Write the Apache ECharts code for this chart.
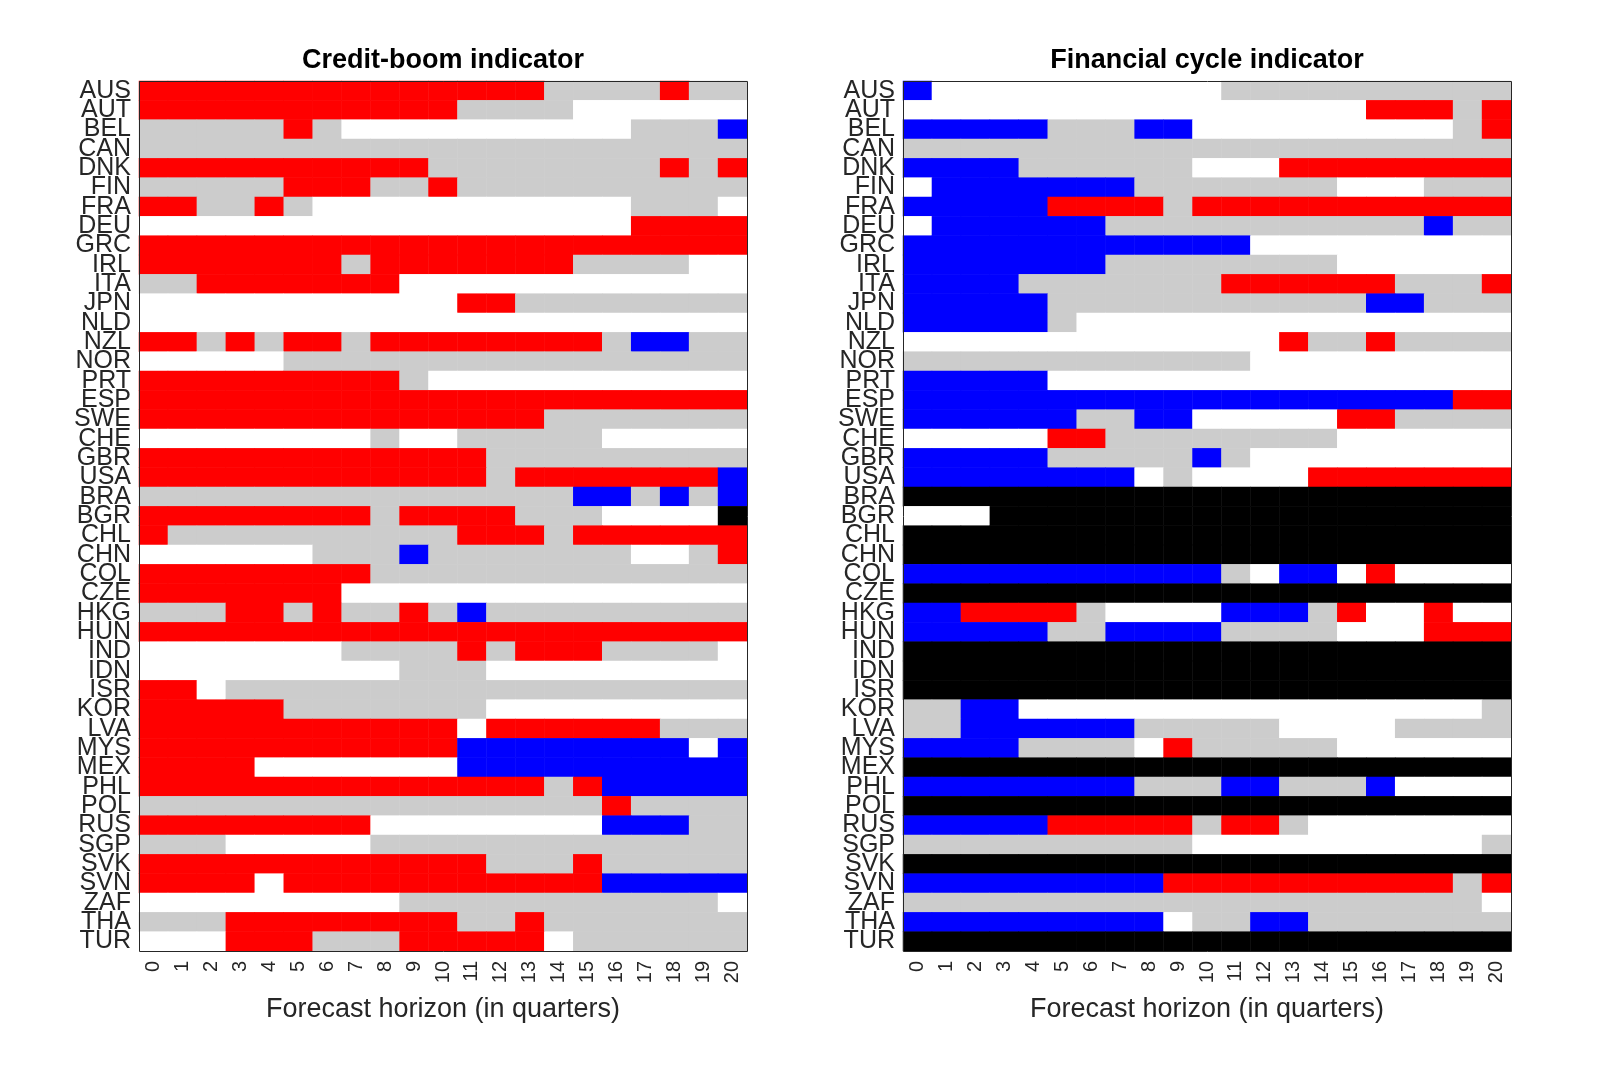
<!DOCTYPE html>
<html>
<head>
<meta charset="utf-8">
<script src="https://cdn.jsdelivr.net/npm/echarts@6/dist/echarts.min.js"></script>
<style>
  html, body { margin: 0; padding: 0; background: #ffffff; }
  #chart { width: 1600px; height: 1066px; }
</style>
</head>
<body>
<div id="chart"></div>
<script>
// Countries (rows, top to bottom) and forecast horizons (columns)
const countries = ['AUS', 'AUT', 'BEL', 'CAN', 'DNK', 'FIN', 'FRA', 'DEU', 'GRC', 'IRL', 'ITA', 'JPN',
    'NLD', 'NZL', 'NOR', 'PRT', 'ESP', 'SWE', 'CHE', 'GBR', 'USA', 'BRA', 'BGR', 'CHL', 'CHN', 'COL',
    'CZE', 'HKG', 'HUN', 'IND', 'IDN', 'ISR', 'KOR', 'LVA', 'MYS', 'MEX', 'PHL', 'POL', 'RUS', 'SGP',
    'SVK', 'SVN', 'ZAF', 'THA', 'TUR'];
const horizons = ['0', '1', '2', '3', '4', '5', '6', '7', '8', '9', '10', '11', '12', '13', '14', '15',
    '16', '17', '18', '19', '20'];

// Cell codes: W = white, G = grey, R = red, B = blue, K = black (no data)
const cellCodes = { W: 0, G: 1, R: 2, B: 3, K: 4 };

// Credit-boom indicator, one string per country, one letter per horizon
const creditBoom = [
    'RRRRRRRRRRRRRRGGGGRGG', // AUS
    'RRRRRRRRRRRGGGGWWWWWW', // AUT
    'GGGGGRGWWWWWWWWWWGGGB', // BEL
    'GGGGGGGGGGGGGGGGGGGGG', // CAN
    'RRRRRRRRRRGGGGGGGGRGR', // DNK
    'GGGGGRRRGGRGGGGGGGGGG', // FIN
    'RRGGRGWWWWWWWWWWWGGGW', // FRA
    'WWWWWWWWWWWWWWWWWRRRR', // DEU
    'RRRRRRRRRRRRRRRRRRRRR', // GRC
    'RRRRRRRGRRRRRRRGGGGWW', // IRL
    'GGRRRRRRRWWWWWWWWWWWW', // ITA
    'WWWWWWWWWWWRRGGGGGGGG', // JPN
    'WWWWWWWWWWWWWWWWWWWWW', // NLD
    'RRGRGRRGRRRRRRRRGBBGG', // NZL
    'WWWWWGGGGGGGGGGGGGGGG', // NOR
    'RRRRRRRRRGWWWWWWWWWWW', // PRT
    'RRRRRRRRRRRRRRRRRRRRR', // ESP
    'RRRRRRRRRRRRRRGGGGGGG', // SWE
    'WWWWWWWWGWWGGGGGWWWWW', // CHE
    'RRRRRRRRRRRRGGGGGGGGG', // GBR
    'RRRRRRRRRRRRGRRRRRRRB', // USA
    'GGGGGGGGGGGGGGGBBGBGB', // BRA
    'RRRRRRRRGRRRRGGGWWWWK', // BGR
    'RGGGGGGGGGGRRRGRRRRRR', // CHL
    'WWWWWWGGGBGGGGGGGWWGR', // CHN
    'RRRRRRRRGGGGGGGGGGGGG', // COL
    'RRRRRRRWWWWWWWWWWWWWW', // CZE
    'GGGRRGRGGRGBGGGGGGGGG', // HKG
    'RRRRRRRRRRRRRRRRRRRRR', // HUN
    'WWWWWWWGGGGRGRRRGGGGW', // IND
    'WWWWWWWWWGGGWWWWWWWWW', // IDN
    'RRWGGGGGGGGGGGGGGGGGG', // ISR
    'RRRRRGGGGGGGWWWWWWWWW', // KOR
    'RRRRRRRRRRRWRRRRRRGGG', // LVA
    'RRRRRRRRRRRBBBBBBBBWB', // MYS
    'RRRRWWWWWWWBBBBBBBBBB', // MEX
    'RRRRRRRRRRRRRRGRBBBBB', // PHL
    'GGGGGGGGGGGGGGGGRGGGG', // POL
    'RRRRRRRRWWWWWWWWBBBGG', // RUS
    'GGGWWWWWGGGGGGGGGGGGG', // SGP
    'RRRRRRRRRRRRGGGRGGGGG', // SVK
    'RRRRWRRRRRRRRRRRBBBBB', // SVN
    'WWWWWWWWWGGGGGGGGGGGW', // ZAF
    'GGGRRRRRRRRGGRGGGGGGG', // THA
    'WWWRRRGGGRRRRRWGGGGGG'  // TUR
];

// Financial cycle indicator
const finCycle = [
    'BWWWWWWWWWWGGGGGGGGGG', // AUS
    'WWWWWWWWWWWWWWWWRRRGR', // AUT
    'BBBBBGGGBBWWWWWWWWWGR', // BEL
    'GGGGGGGGGGGGGGGGGGGGG', // CAN
    'BBBBGGGGGGWWWRRRRRRRR', // DNK
    'WBBBBBBBGGGGGGGWWWGGG', // FIN
    'BBBBBRRRRGRRRRRRRRRRR', // FRA
    'WBBBBBBGGGGGGGGGGGBGG', // DEU
    'BBBBBBBBBBBBWWWWWWWWW', // GRC
    'BBBBBBBGGGGGGGGWWWWWW', // IRL
    'BBBBGGGGGGGRRRRRRGGGR', // ITA
    'BBBBBGGGGGGGGGGGBBGGG', // JPN
    'BBBBBGWWWWWWWWWWWWWWW', // NLD
    'WWWWWWWWWWWWWRGGRGGGG', // NZL
    'GGGGGGGGGGGGWWWWWWWWW', // NOR
    'BBBBBWWWWWWWWWWWWWWWW', // PRT
    'BBBBBBBBBBBBBBBBBBBRR', // ESP
    'BBBBBBGGBBWWWWWRRGGGG', // SWE
    'WWWWWRRGGGGGGGGWWWWWW', // CHE
    'BBBBBGGGGGBGWWWWWWWWW', // GBR
    'BBBBBBBBWGWWWWRRRRRRR', // USA
    'KKKKKKKKKKKKKKKKKKKKK', // BRA
    'WWWKKKKKKKKKKKKKKKKKK', // BGR
    'KKKKKKKKKKKKKKKKKKKKK', // CHL
    'KKKKKKKKKKKKKKKKKKKKK', // CHN
    'BBBBBBBBBBBGWBBWRWWWW', // COL
    'KKKKKKKKKKKKKKKKKKKKK', // CZE
    'BBRRRRGWWWWBBBGRWWRWW', // HKG
    'BBBBBGGBBBBGGGGWWWRRR', // HUN
    'KKKKKKKKKKKKKKKKKKKKK', // IND
    'KKKKKKKKKKKKKKKKKKKKK', // IDN
    'KKKKKKKKKKKKKKKKKKKKK', // ISR
    'GGBBWWWWWWWWWWWWWWWWG', // KOR
    'GGBBBBBBGGGGGWWWWGGGG', // LVA
    'BBBBGGGGWRGGGGGWWWWWW', // MYS
    'KKKKKKKKKKKKKKKKKKKKK', // MEX
    'BBBBBBBBGGGBBGGGBWWWW', // PHL
    'KKKKKKKKKKKKKKKKKKKKK', // POL
    'BBBBBRRRRRGRRGWWWWWWW', // RUS
    'GGGGGGGGGGWWWWWWWWWWG', // SGP
    'KKKKKKKKKKKKKKKKKKKKK', // SVK
    'BBBBBBBBBRRRRRRRRRRGR', // SVN
    'GGGGGGGGGGGGGGGGGGGGW', // ZAF
    'BBBBBBBBBWGGBBGGGGGGG', // THA
    'KKKKKKKKKKKKKKKKKKKKK'  // TUR
];

// turn the row strings into [x, y, code] triples for the heatmap
function toCells(rows) {
    const cells = [];
    rows.forEach(function (row, y) {
        for (let x = 0; x < row.length; x++) {
            cells.push([x, y, cellCodes[row[x]]]);
        }
    });
    return cells;
}

const font = 'Liberation Sans, Arial, Helvetica, sans-serif';
const textColor = '#262626';

// plot boxes in pixels
const boxes = [
    { left: 139, top: 81, width: 608, height: 870 },
    { left: 903, top: 81, width: 608, height: 870 }
];
const titles = ['Credit-boom indicator', 'Financial cycle indicator'];

function xAxisFor(i) {
    return {
        type: 'category',
        gridIndex: i,
        data: horizons,
        axisLine: { show: false },
        axisTick: { show: false },
        splitLine: { show: false },
        axisLabel: {
            rotate: 90,
            interval: 0,
            margin: 10,
            fontSize: 20,
            fontFamily: font,
            color: textColor
        },
        name: 'Forecast horizon (in quarters)',
        nameLocation: 'middle',
        nameGap: 45,
        nameTextStyle: { fontSize: 27, fontFamily: font, color: textColor }
    };
}

function yAxisFor(i) {
    return {
        type: 'category',
        gridIndex: i,
        data: countries,
        inverse: true,
        axisLine: { show: false },
        axisTick: { show: false },
        splitLine: { show: false },
        axisLabel: {
            interval: 0,
            margin: 8,
            fontSize: 25,
            fontFamily: font,
            color: textColor
        }
    };
}

function heatmapFor(i, rows) {
    return {
        type: 'heatmap',
        xAxisIndex: i,
        yAxisIndex: i,
        data: toCells(rows),
        itemStyle: { borderWidth: 0 },
        emphasis: { disabled: true },
        progressive: 0
    };
}

const chart = echarts.init(document.getElementById('chart'));
const option = {
    animation: false,
    backgroundColor: '#ffffff',
    grid: boxes.map(function (b) {
        return { left: b.left, top: b.top, width: b.width, height: b.height, containLabel: false };
    }),
    xAxis: [xAxisFor(0), xAxisFor(1)],
    yAxis: [yAxisFor(0), yAxisFor(1)],
    visualMap: {
        type: 'piecewise',
        show: false,
        seriesIndex: [0, 1],
        pieces: [
            { value: 0, color: '#ffffff' },
            { value: 1, color: '#cccccc' },
            { value: 2, color: '#ff0000' },
            { value: 3, color: '#0000ff' },
            { value: 4, color: '#000000' }
        ]
    },
    series: [heatmapFor(0, creditBoom), heatmapFor(1, finCycle)],
    graphic: boxes.map(function (b) {
        return {
            type: 'rect',
            z: 100,
            silent: true,
            shape: { x: b.left + 0.5, y: b.top + 0.5, width: b.width, height: b.height },
            style: { fill: 'none', stroke: textColor, lineWidth: 1 }
        };
    }).concat(boxes.map(function (b, i) {
        return {
            type: 'text',
            z: 100,
            silent: true,
            x: b.left + b.width / 2,
            y: 61,
            style: {
                text: titles[i],
                font: 'bold 27px ' + font,
                fill: '#000000',
                align: 'center',
                verticalAlign: 'middle'
            }
        };
    }))
};
chart.setOption(option);

window.addEventListener('resize', function () {
    chart.resize();
});
</script>
</body>
</html>
